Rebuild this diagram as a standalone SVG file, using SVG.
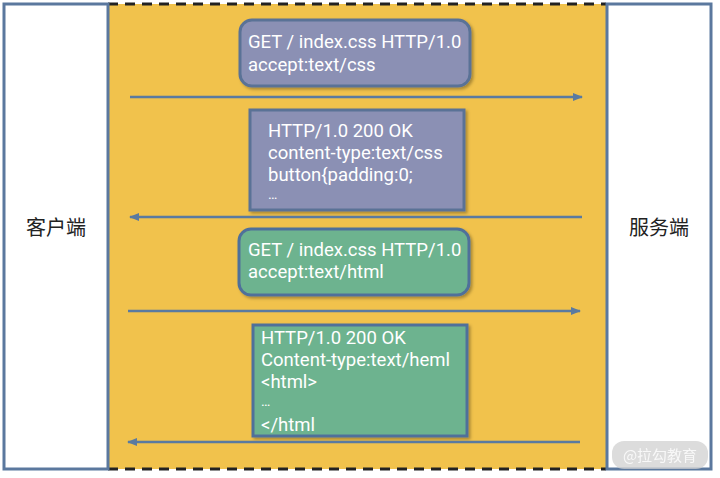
<svg xmlns="http://www.w3.org/2000/svg" width="720" height="478" viewBox="0 0 720 478">
<style>
.side{fill:#ffffff;stroke:#5b789e;stroke-width:3}
.lbl{font-family:"Noto Sans CJK SC","Noto Sans",sans-serif;font-size:20px;fill:#222}
.t{font-family:Roboto,"Noto Sans",sans-serif;font-size:18.5px;fill:#ffffff}
.dots{font-family:Roboto,"Noto Sans",sans-serif;font-size:14px;fill:#ffffff}
.purple{fill:#8b90b4;stroke:#5a7296;stroke-width:3}
.green{fill:#6db38f;stroke:#50709a;stroke-width:3}
.arrow{stroke:#5a7aa0;stroke-width:2.5;fill:none}
.dash{stroke:#222;stroke-width:3;stroke-dasharray:10 7;fill:none}
</style>
<defs>
<marker id="ah" viewBox="0 0 10 10" refX="9" refY="5" markerWidth="4" markerHeight="4" orient="auto-start-reverse" markerUnits="strokeWidth">
<path d="M0,1 L10,5 L0,9 z" fill="#5a7aa0"/>
</marker>
<filter id="sh" x="-10%" y="-10%" width="130%" height="130%">
<feDropShadow dx="2" dy="2" stdDeviation="1.5" flood-color="#000" flood-opacity="0.3"/>
</filter>
</defs>
<rect width="720" height="478" fill="#ffffff"/>
<rect x="108" y="4" width="498" height="465" fill="#f1c24c"/>
<line class="dash" x1="108" y1="4" x2="606" y2="4"/>
<line class="dash" x1="108" y1="469" x2="606" y2="469"/>
<g id="client">
<rect class="side" x="4" y="4" width="104" height="465"/>
<text class="lbl" x="56" y="235" text-anchor="middle">客户端</text>
</g>
<g id="server">
<rect class="side" x="607" y="4" width="104" height="465"/>
<text class="lbl" x="659" y="235" text-anchor="middle">服务端</text>
</g>
<g id="req-css">
<rect class="purple" x="240" y="20" width="230" height="66" rx="12" filter="url(#sh)"/>
<text class="t" x="248" y="48">GET / index.css HTTP/1.0</text>
<text class="t" x="248" y="71">accept:text/css</text>
</g>
<g id="res-css">
<rect class="purple" x="250" y="110" width="214" height="100" filter="url(#sh)"/>
<text class="t" x="268" y="137">HTTP/1.0 200 OK</text>
<text class="t" x="268" y="159">content-type:text/css</text>
<text class="t" x="268" y="181">button{padding:0;</text>
<text class="dots" x="268" y="199">…</text>
</g>
<g id="req-html">
<rect class="green" x="239" y="229" width="230" height="66" rx="12" filter="url(#sh)"/>
<text class="t" x="248" y="256">GET / index.css HTTP/1.0</text>
<text class="t" x="248" y="278">accept:text/html</text>
</g>
<g id="res-html">
<rect class="green" x="253" y="325" width="214" height="111" filter="url(#sh)"/>
<text class="t" x="261" y="344">HTTP/1.0 200 OK</text>
<text class="t" x="261" y="366">Content-type:text/heml</text>
<text class="t" x="261" y="388">&lt;html&gt;</text>
<text class="dots" x="261" y="406">…</text>
<text class="t" x="261" y="431">&lt;/html</text>
</g>
<g id="connectors">
<line class="arrow" x1="130" y1="97" x2="582" y2="97" marker-end="url(#ah)"/>
<line class="arrow" x1="582" y1="217" x2="130" y2="217" marker-end="url(#ah)"/>
<line class="arrow" x1="128" y1="311" x2="580" y2="311" marker-end="url(#ah)"/>
<line class="arrow" x1="580" y1="442" x2="128" y2="442" marker-end="url(#ah)"/>
</g>
<g id="watermark">
<rect x="612" y="441" width="96" height="28" rx="12" fill="#d0d0d0" opacity="0.75"/>
<text x="660" y="461" text-anchor="middle" font-family="'Noto Sans CJK SC',sans-serif" font-size="15" fill="#ffffff" opacity="0.8">@拉勾教育</text>
</g>
</svg>
